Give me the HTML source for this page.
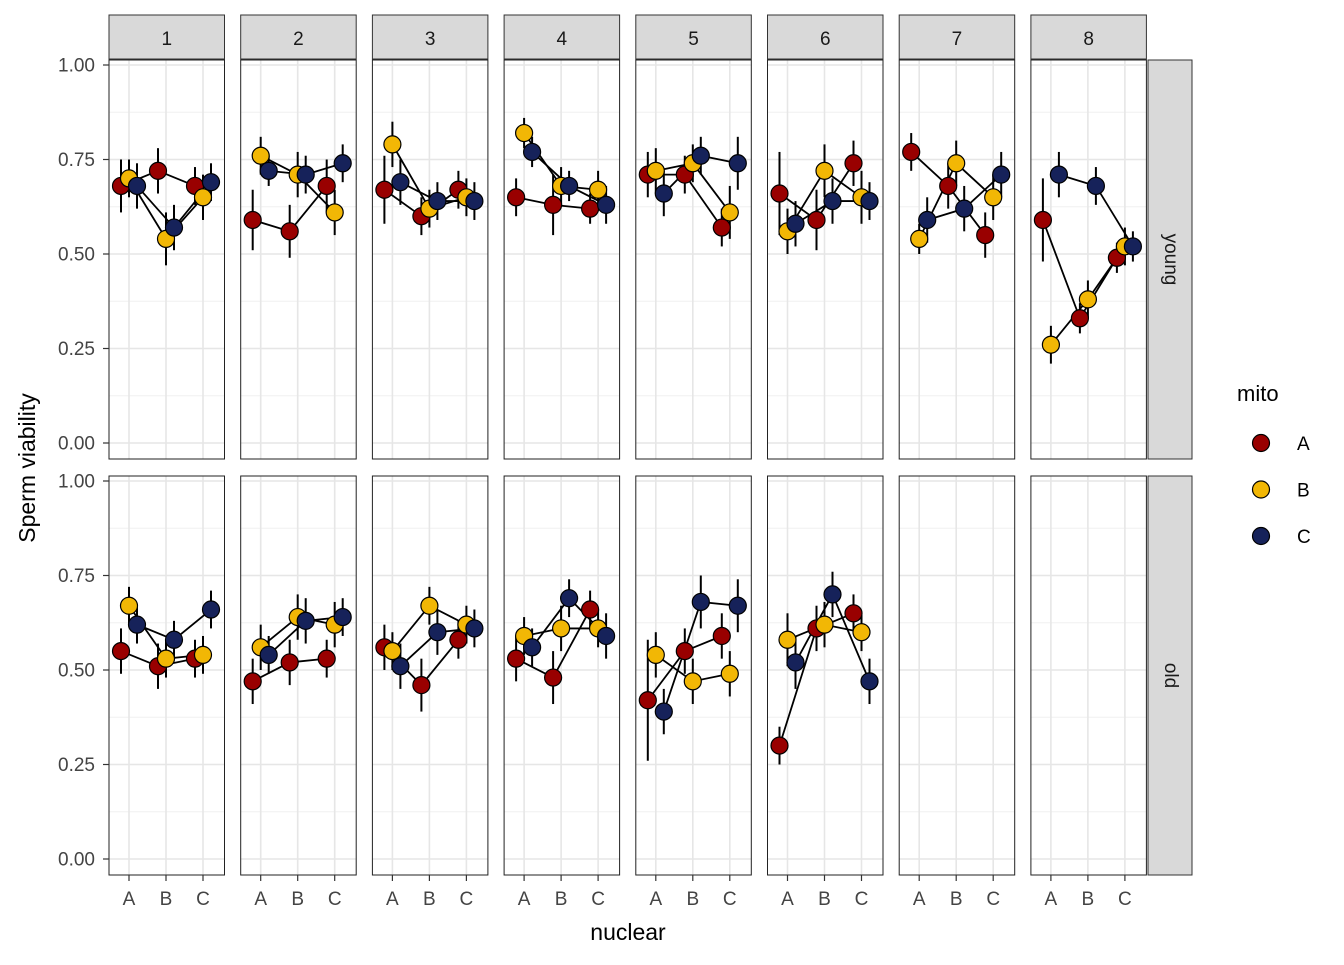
<!DOCTYPE html>
<html><head><meta charset="utf-8">
<style>
body{margin:0;background:#fff;}
svg text{font-family:"Liberation Sans",Arial,sans-serif;}
</style></head>
<body>
<svg id="chart" width="1344" height="960" xmlns="http://www.w3.org/2000/svg"></svg>
<script>
// ---- data ----
const panels = ["1","2","3","4","5","6","7","8"];
const ages = ["young","old"];
const nuclearCats = ["A","B","C"];
const mitoCats = ["A","B","C"];
const mitoColors = ["#990000","#F2B705","#16225A"];
const yTicks = [0,0.25,0.5,0.75,1];
const yTickLabels = ["0.00","0.25","0.50","0.75","1.00"];
// means[panel][nuclear][mito]
const youngMeans = [
 [[0.68,0.70,0.68],[0.72,0.54,0.57],[0.68,0.65,0.69]],
 [[0.59,0.76,0.72],[0.56,0.71,0.71],[0.68,0.61,0.74]],
 [[0.67,0.79,0.69],[0.60,0.62,0.64],[0.67,0.65,0.64]],
 [[0.65,0.82,0.77],[0.63,0.68,0.68],[0.62,0.67,0.63]],
 [[0.71,0.72,0.66],[0.71,0.74,0.76],[0.57,0.61,0.74]],
 [[0.66,0.56,0.58],[0.59,0.72,0.64],[0.74,0.65,0.64]],
 [[0.77,0.54,0.59],[0.68,0.74,0.62],[0.55,0.65,0.71]],
 [[0.59,0.26,0.71],[0.33,0.38,0.68],[0.49,0.52,0.52]]
];
const oldMeans = [
 [[0.55,0.67,0.62],[0.51,0.53,0.58],[0.53,0.54,0.66]],
 [[0.47,0.56,0.54],[0.52,0.64,0.63],[0.53,0.62,0.64]],
 [[0.56,0.55,0.51],[0.46,0.67,0.60],[0.58,0.62,0.61]],
 [[0.53,0.59,0.56],[0.48,0.61,0.69],[0.66,0.61,0.59]],
 [[0.42,0.54,0.39],[0.55,0.47,0.68],[0.59,0.49,0.67]],
 [[0.30,0.58,0.52],[0.61,0.62,0.70],[0.65,0.60,0.47]],
 null, null
];
const youngErr = [
 [[0.07,0.05,0.06],[0.06,0.07,0.06],[0.05,0.06,0.05]],
 [[0.08,0.05,0.04],[0.07,0.06,0.05],[0.07,0.06,0.05]],
 [[0.09,0.06,0.06],[0.05,0.05,0.05],[0.05,0.05,0.05]],
 [[0.05,0.04,0.04],[0.08,0.05,0.04],[0.04,0.05,0.05]],
 [[0.06,0.06,0.06],[0.05,0.05,0.05],[0.05,0.07,0.07]],
 [[0.11,0.06,0.06],[0.08,0.07,0.06],[0.06,0.07,0.05]],
 [[0.05,0.04,0.06],[0.06,0.06,0.06],[0.06,0.06,0.06]],
 [[0.11,0.05,0.06],[0.04,0.05,0.05],[0.04,0.05,0.04]]
];
const oldErr = [
 [[0.06,0.05,0.05],[0.06,0.05,0.05],[0.05,0.05,0.05]],
 [[0.06,0.06,0.05],[0.06,0.06,0.06],[0.05,0.06,0.05]],
 [[0.06,0.05,0.06],[0.07,0.05,0.06],[0.05,0.05,0.05]],
 [[0.06,0.05,0.05],[0.07,0.06,0.05],[0.05,0.05,0.06]],
 [[0.16,0.06,0.06],[0.06,0.06,0.07],[0.06,0.06,0.07]],
 [[0.05,0.07,0.07],[0.06,0.06,0.06],[0.05,0.05,0.06]],
 null, null
];

// ---- layout ----
const svg = document.getElementById('chart');
const NS = "http://www.w3.org/2000/svg";
function el(tag, attrs, parent){const e=document.createElementNS(NS,tag);for(const k in attrs)e.setAttribute(k,attrs[k]);(parent||svg).appendChild(e);return e;}
const panelX0 = 109, panelW = 115.5, panelStep = 131.7;
const rowTop = [60, 476], rowH = 399;
function yScale(row, v){ const y1 = rowTop[row]+5, y0 = rowTop[row]+383; return y0 - v*(y0-y1); }
function xScale(p, ni, mi){ return panelX0 + p*panelStep + 20 + ni*37 + (mi-1)*8; }

panels.forEach((lab,p)=>{
  const x = panelX0+p*panelStep;
  const s = el('rect',{x:x,y:15,width:panelW,height:44,fill:'#d9d9d9',stroke:'#333','stroke-width':1});
  
  
  const t = el('text',{x:x+panelW/2,y:45,'text-anchor':'middle','font-size':19,fill:'#1a1a1a'});
  t.textContent = lab;
  
  
});
ages.forEach((a,r)=>{
  const s = el('rect',{x:1148,y:rowTop[r],width:44,height:rowH,fill:'#d9d9d9',stroke:'#333','stroke-width':1});
  
  
  const cy = rowTop[r]+rowH/2;
  const t = el('text',{x:1170,y:cy,'text-anchor':'middle','font-size':19,fill:'#1a1a1a',transform:`rotate(90 1170 ${cy})`,'dominant-baseline':'middle'});
  t.textContent = a;
  
  
});

ages.forEach((age,r)=>{
  const means = r===0?youngMeans:oldMeans;
  const errs = r===0?youngErr:oldErr;
  panels.forEach((lab,p)=>{
    const x = panelX0+p*panelStep, y=rowTop[r];
    const g = el('g',{});
    
    
    el('rect',{x:x,y:y,width:panelW,height:rowH,fill:'#fff'},g);
    for(let i=0;i<yTicks.length-1;i++){
      const yy=yScale(r,(yTicks[i]+yTicks[i+1])/2);
      el('line',{x1:x,x2:x+panelW,y1:yy,y2:yy,stroke:'#f0f0f0','stroke-width':1},g);
    }
    yTicks.forEach(v=>{const yy=yScale(r,v);el('line',{x1:x,x2:x+panelW,y1:yy,y2:yy,stroke:'#e6e6e6','stroke-width':1.6},g);});
    nuclearCats.forEach((n,ni)=>{const xx=xScale(p,ni,1);el('line',{x1:xx,x2:xx,y1:y,y2:y+rowH,stroke:'#e6e6e6','stroke-width':1.6},g);});
    const m = means[p];
    if(m){
      mitoCats.forEach((mc,mi)=>{
        const pts = nuclearCats.map((n,ni)=>xScale(p,ni,mi)+','+yScale(r,m[ni][mi])).join(' ');
        const pl = el('polyline',{points:pts,fill:'none',stroke:'#000','stroke-width':1.8},g);
        
        
      });
      mitoCats.forEach((mc,mi)=>{
        nuclearCats.forEach((n,ni)=>{
          const xx=xScale(p,ni,mi), e=errs[p][ni][mi];
          const eb = el('line',{x1:xx,x2:xx,y1:yScale(r,m[ni][mi]-e),y2:yScale(r,m[ni][mi]+e),stroke:'#000','stroke-width':2},g);
          
          
        });
      });
      mitoCats.forEach((mc,mi)=>{
        nuclearCats.forEach((n,ni)=>{
          const c = el('circle',{cx:xScale(p,ni,mi),cy:yScale(r,m[ni][mi]),r:8.5,fill:mitoColors[mi],stroke:'#000','stroke-width':1.2},g);
          
          
        });
      });
    }
    el('rect',{x:x,y:y,width:panelW,height:rowH,fill:'none',stroke:'#222','stroke-width':1},g);
  });
  yTicks.forEach((v,i)=>{
    const yy=yScale(r,v);
    el('line',{x1:103,x2:109,y1:yy,y2:yy,stroke:'#333','stroke-width':1.2});
    const t = el('text',{x:95,y:yy+6.5,'text-anchor':'end','font-size':19,fill:'#444'});
    t.textContent = yTickLabels[i];
    
    
  });
});
panels.forEach((lab,p)=>{
  nuclearCats.forEach((n,ni)=>{
    const xx=xScale(p,ni,1);
    el('line',{x1:xx,x2:xx,y1:875,y2:881,stroke:'#333','stroke-width':1.2});
    const t = el('text',{x:xx,y:905,'text-anchor':'middle','font-size':19,fill:'#444'});
    t.textContent = n;
    
    
  });
});
let t = el('text',{x:628,y:940,'text-anchor':'middle','font-size':23,fill:'#000'});
t.textContent='nuclear';


t = el('text',{x:29,y:468,'text-anchor':'middle','font-size':23,fill:'#000',transform:'rotate(-90 29 468)','dominant-baseline':'middle'});
t.textContent='Sperm viability';


t = el('text',{x:1237,y:401,'font-size':22,fill:'#000'});
t.textContent='mito';


mitoCats.forEach((mc,mi)=>{
  const cy = 443+mi*46.5;
  const c = el('circle',{cx:1261,cy:cy,r:8.5,fill:mitoColors[mi],stroke:'#000','stroke-width':1.2});
  
  
  const lt = el('text',{x:1297,y:cy+7,'font-size':19,fill:'#000'});
  lt.textContent = mc;
  
  
});
</script>
</body></html>
